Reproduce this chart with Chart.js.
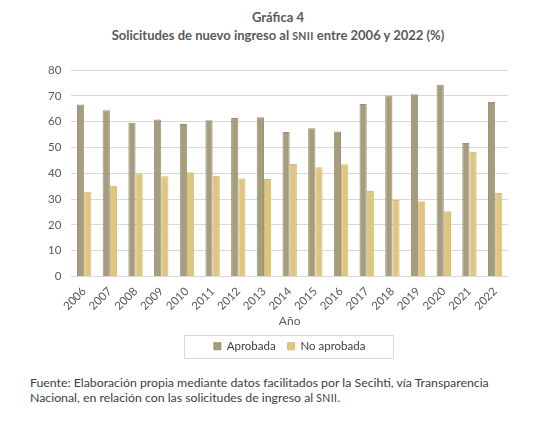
<!DOCTYPE html>
<html>
<head>
<meta charset="utf-8">
<script src="https://cdn.jsdelivr.net/npm/chart.js@4/dist/chart.umd.min.js"></script>
<style>
  body { margin: 0; background: #fff; font-family: Lato, sans-serif; }
  #wrap { position: relative; width: 550px; height: 423px; overflow: hidden; }
  #titulo { position: absolute; top: 8px; left: 0; width: 556px; text-align: center;
    color: #595959; font-size: 13px; font-weight: 700; line-height: 18px; }
  .sc { font-size: 10.5px; letter-spacing: 0.3px; }
  #box { position: absolute; top: 0; left: 0; width: 550px; height: 368px; }
  #fuente { position: absolute; top: 376px; left: 30px; width: 510px;
    color: #404040; font-size: 12.3px; line-height: 14.5px; }
</style>
</head>
<body>
<div id="wrap">
  <div id="titulo">Gráfica 4<br>Solicitudes de nuevo ingreso al <span class="sc">SNII</span> entre 2006 y 2022 (%)</div>
  <div id="box"><canvas id="grafica"></canvas></div>
  <div id="fuente">Fuente: Elaboración propia mediante datos facilitados por la Secihti, vía Transparencia Nacional, en relación con las solicitudes de ingreso al <span class="sc">SNII</span>.</div>
</div>
<script>
// datos
var anios = ["2006", "2007", "2008", "2009", "2010", "2011", "2012", "2013", "2014",
  "2015", "2016", "2017", "2018", "2019", "2020", "2021", "2022"];
var aprobada = [66.6, 64.4, 59.6, 60.8, 59.1, 60.5, 61.4, 61.7, 56.0,
  57.4, 56.2, 66.8, 70.1, 70.6, 74.3, 51.7, 67.6];
var noAprobada = [32.8, 35.2, 39.9, 38.8, 40.4, 38.9, 38.0, 37.8, 43.6,
  42.3, 43.5, 33.1, 29.6, 29.1, 25.3, 48.2, 32.3];
var ejeY = [0, 10, 20, 30, 40, 50, 60, 70, 80];

var gris = "#595959";

// marco alrededor de la leyenda
var marcoLeyenda = {
  id: "marcoLeyenda",
  afterDraw: function (chart) {
    var cajas = chart.legend.legendHitBoxes;
    if (!cajas || !cajas.length) return;
    var izq = cajas[0].left, der = 0, arriba = cajas[0].top, abajo = 0;
    cajas.forEach(function (c) {
      izq = Math.min(izq, c.left);
      der = Math.max(der, c.left + c.width);
      arriba = Math.min(arriba, c.top);
      abajo = Math.max(abajo, c.top + c.height);
    });
    var ctx = chart.ctx;
    ctx.save();
    ctx.strokeStyle = "#d9d9d9";
    ctx.lineWidth = 1;
    ctx.strokeRect(Math.round(izq - 30) + 0.5, Math.round(arriba - 6) + 0.5,
      Math.round(der - izq + 58), Math.round(abajo - arriba + 11));
    ctx.restore();
  }
};

Chart.defaults.font.family = "Lato, sans-serif";

new Chart(document.getElementById("grafica"), {
  type: "bar",
  data: {
    labels: anios,
    datasets: [
      {
        label: "Aprobada",
        data: aprobada,
        backgroundColor: "#a69c7e",
        borderColor: "#9a9072",
        borderWidth: 1,
      },
      {
        label: "No aprobada",
        data: noAprobada,
        backgroundColor: "#dfc680",
        borderColor: "#d6bc72",
        borderWidth: 1,
      },
    ],
  },
  options: {
    responsive: true,
    maintainAspectRatio: false,
    animation: false,
    layout: { padding: { top: 70, left: 38, right: 42, bottom: 6 } },
    datasets: { bar: { categoryPercentage: 0.56, barPercentage: 1.0 } },
    scales: {
      x: {
        grid: { display: false },
        border: { display: false },
        ticks: { color: gris, font: { size: 11.5 }, minRotation: 45, maxRotation: 45, padding: 0 },
        title: { display: true, text: "Año", color: gris, font: { size: 12 }, padding: { top: 1, bottom: 0 } },
      },
      y: {
        min: 0,
        max: 80,
        afterBuildTicks: function (axis) {
          axis.ticks = ejeY.map(function (v) { return { value: v }; });
        },
        grid: { color: "#d9d9d9", lineWidth: 1, drawTicks: false },
        border: { display: false },
        ticks: { color: gris, font: { size: 11.5 }, padding: 10 },
      },
    },
    plugins: {
      legend: {
        position: "bottom",
        fullSize: false,
        labels: { boxWidth: 7, boxHeight: 7, color: "#404040", font: { size: 11.5 }, padding: 12 },
      },
      tooltip: { enabled: false },
    },
  },
  plugins: [marcoLeyenda],
});
</script>
</body>
</html>
